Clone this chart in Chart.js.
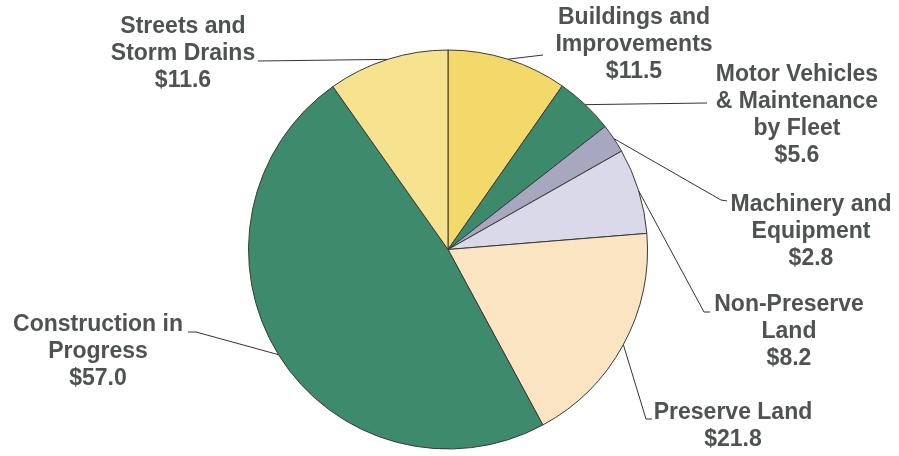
<!DOCTYPE html>
<html>
<head>
<meta charset="utf-8">
<title>Capital Assets</title>
<script src="https://cdn.jsdelivr.net/npm/chart.js@4.4.0/dist/chart.umd.min.js"></script>
<style>
    html, body { margin: 0; padding: 0; background: #ffffff; }
    #wrap { width: 899px; height: 456px; position: relative; }
</style>
</head>
<body>
<div id="wrap"><canvas id="assetPie"></canvas></div>
<script>
// ----------------------------------------------------
// Data (clockwise from 12 o'clock)
// ----------------------------------------------------
const categories = [
    'Buildings and Improvements',
    'Motor Vehicles & Maintenance by Fleet',
    'Machinery and Equipment',
    'Non-Preserve Land',
    'Preserve Land',
    'Construction in Progress',
    'Streets and Storm Drains'
];
const values = [11.5, 5.6, 2.8, 8.2, 21.8, 57.0, 11.6];

// label text broken into lines as in the picture
const labelLines = [
    ['Buildings and', 'Improvements'],
    ['Motor Vehicles', '& Maintenance', 'by Fleet'],
    ['Machinery and', 'Equipment'],
    ['Non-Preserve', 'Land'],
    ['Preserve Land'],
    ['Construction in', 'Progress'],
    ['Streets and', 'Storm Drains']
];

const sliceColors = ['#f3d86a', '#3c8a6b', '#a7a8bf', '#dad9e9', '#fae4c1', '#3d8b6c', '#f6e28f'];

// label placement: text centre x, first line y, leader end points
const labelLayout = [
    { x: 634, y: 18,  leader: [[543, 55]] },
    { x: 797, y: 75,  leader: [[707, 103]] },
    { x: 811, y: 205, leader: [[721, 200], [727, 201]] },
    { x: 789, y: 305, leader: [[704, 312], [710, 312]] },
    { x: 733, y: 413, leader: [[646, 419], [652, 419]] },
    { x: 98,  y: 325, leader: [[196, 332], [188, 332]] },
    { x: 183, y: 27,  leader: [[258, 61]] }
];

// ----------------------------------------------------
// Plugin: leader lines + multi-line labels
// ----------------------------------------------------
const calloutLabels = {
    id: 'calloutLabels',
    afterDatasetsDraw(chart) {
        const ctx = chart.ctx;
        const arcs = chart.getDatasetMeta(0).data;
        ctx.save();
        arcs.forEach(function(arc, i) {
            const mid = (arc.startAngle + arc.endAngle) / 2;
            const sx = arc.x + Math.cos(mid) * arc.outerRadius;
            const sy = arc.y + Math.sin(mid) * arc.outerRadius;
            const lay = labelLayout[i];

            // leader line
            ctx.strokeStyle = '#333333';
            ctx.lineWidth = 1;
            ctx.beginPath();
            ctx.moveTo(sx, sy);
            lay.leader.forEach(function(p) { ctx.lineTo(p[0], p[1]); });
            ctx.stroke();

            // text
            const lines = labelLines[i].concat(['$' + values[i].toFixed(1)]);
            ctx.fillStyle = '#4f5252';
            ctx.font = 'bold 23px "Liberation Sans", Arial, sans-serif';
            ctx.textAlign = 'center';
            ctx.textBaseline = 'middle';
            lines.forEach(function(t, k) {
                ctx.fillText(t, lay.x, lay.y + k * 26.8);
            });
        });
        ctx.restore();
    }
};

// ----------------------------------------------------
// Pie chart
// ----------------------------------------------------
new Chart(document.getElementById('assetPie'), {
    type: 'pie',
    data: {
        labels: categories,
        datasets: [{
            data: values,
            backgroundColor: sliceColors,
            borderColor: '#3a3a3a',
            borderWidth: 1
        }]
    },
    options: {
        responsive: true,
        maintainAspectRatio: false,
        animation: false,
        layout: {
            padding: { top: 49, bottom: 6, left: 248, right: 251 }
        },
        plugins: {
            legend: { display: false },
            tooltip: { enabled: false }
        }
    },
    plugins: [calloutLabels]
});
</script>
</body>
</html>
